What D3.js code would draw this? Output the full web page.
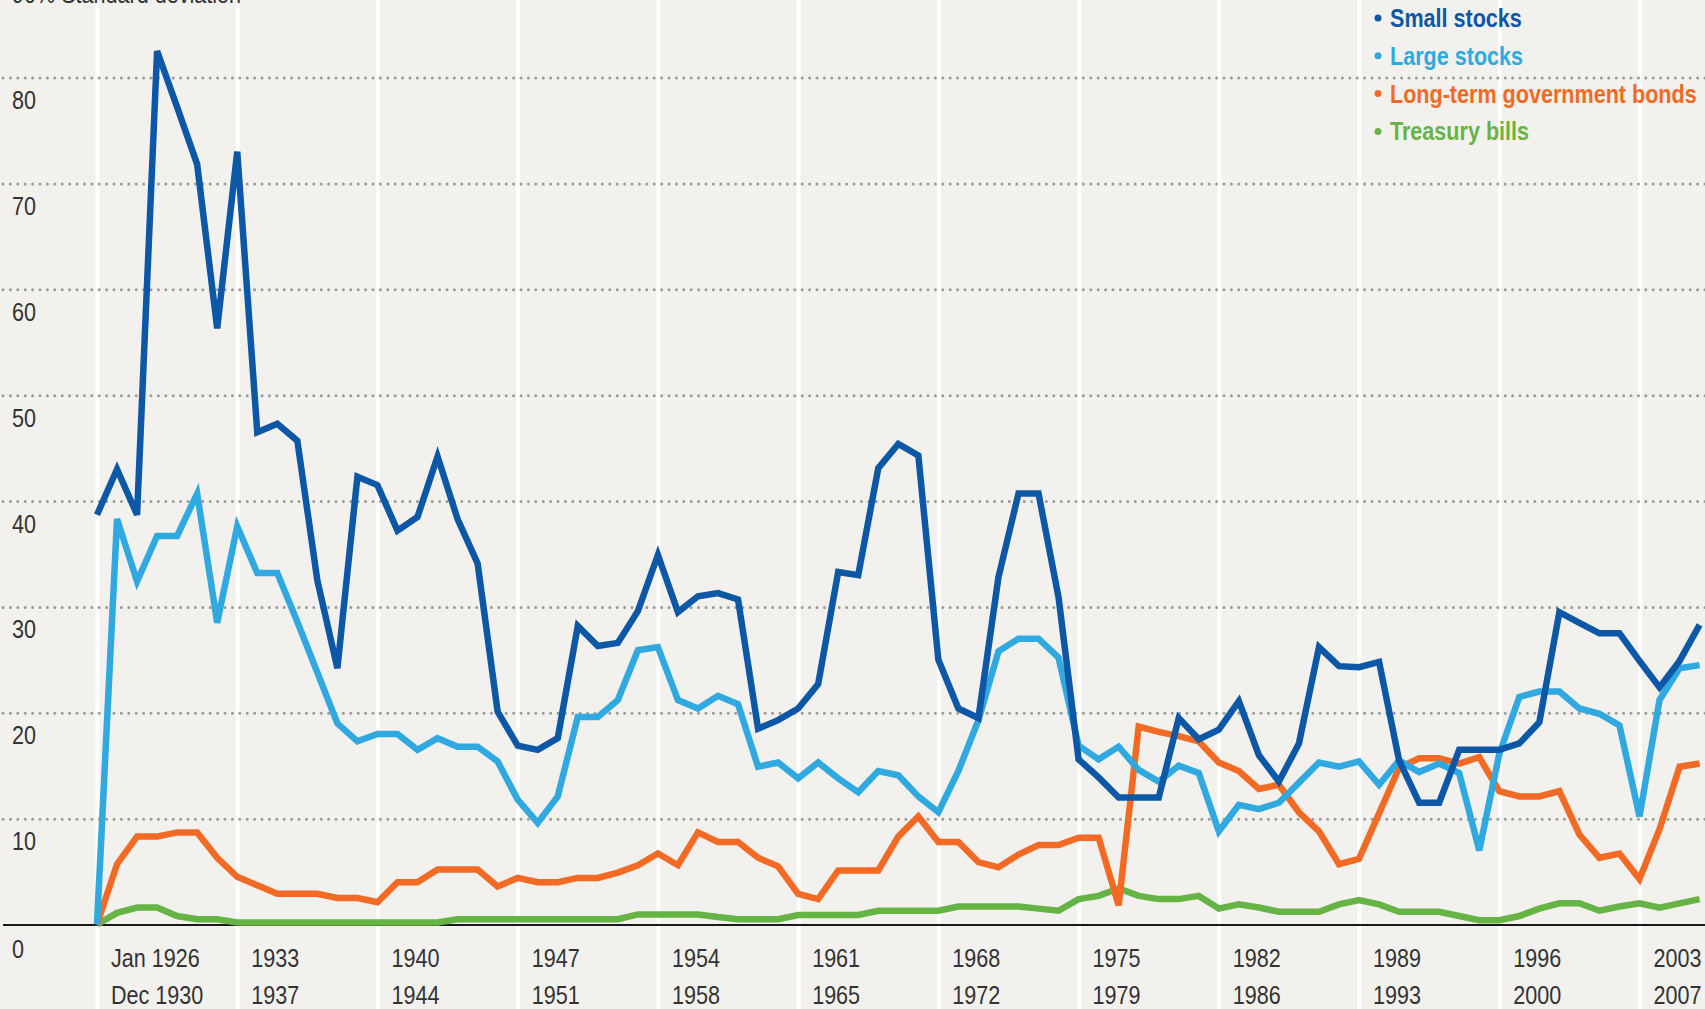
<!DOCTYPE html>
<html>
<head>
<meta charset="utf-8">
<script src="https://cdn.jsdelivr.net/npm/d3@7"></script>
<style>
  body { margin: 0; background: #f3f1ee; }
  svg { display: block; }
  text { font-family: "Liberation Sans", Arial, "DejaVu Sans", sans-serif; }
</style>
</head>
<body>
<svg id="center"></svg>
<script>
// one value per rolling 5-year period, start years 1926 .. 2006
var startYears = d3.range(1926, 2007);

var smallStocks = [
  38.7, 43.0, 38.7, 82.5, 77.2, 71.8, 56.3, 73.0, 46.5, 47.3,
  45.7, 32.5, 24.2, 42.3, 41.5, 37.2, 38.5, 44.2, 38.3, 34.1,
  20.1, 16.9, 16.5, 17.6, 28.2, 26.3, 26.6, 29.6, 34.9, 29.5,
  31.0, 31.3, 30.7, 18.5, 19.3, 20.4, 22.7, 33.3, 33.0, 43.1,
  45.4, 44.3, 25.0, 20.4, 19.5, 32.8, 40.7, 40.7, 30.9, 15.6,
  13.9, 12.0, 12.0, 12.0, 19.5, 17.5, 18.4, 21.1, 16.0, 13.5,
  17.1, 26.2, 24.4, 24.3, 24.8, 15.5, 11.5, 11.5, 16.5, 16.5,
  16.5, 17.1, 19.1, 29.5, 28.5, 27.5, 27.5, 24.9, 22.4, 24.9,
  28.3
];

var largeStocks = [
  0, 38.3, 32.4, 36.7, 36.7, 40.7, 28.5, 37.6, 33.2, 33.2,
  28.6, 23.8, 19.0, 17.3, 18.0, 18.0, 16.5, 17.6, 16.8, 16.8,
  15.4, 11.8, 9.6, 12.1, 19.6, 19.6, 21.2, 25.9, 26.2, 21.2,
  20.4, 21.6, 20.8, 14.9, 15.3, 13.8, 15.3, 13.8, 12.5, 14.5,
  14.1, 12.1, 10.6, 14.5, 19.3, 25.8, 27.0, 27.0, 25.2, 16.9,
  15.6, 16.8, 14.6, 13.5, 15.0, 14.3, 8.8, 11.3, 10.9, 11.5,
  13.4, 15.3, 14.9, 15.4, 13.2, 15.5, 14.4, 15.2, 14.3, 7.0,
  16.1, 21.5, 22.0, 22.0, 20.4, 19.9, 18.8, 10.2, 21.2, 24.2,
  24.5
];

var govBonds = [
  0, 5.7, 8.3, 8.3, 8.7, 8.7, 6.3, 4.5, 3.7, 2.9,
  2.9, 2.9, 2.5, 2.5, 2.1, 4.0, 4.0, 5.2, 5.2, 5.2,
  3.6, 4.4, 4.0, 4.0, 4.4, 4.4, 4.9, 5.6, 6.7, 5.6,
  8.7, 7.8, 7.8, 6.3, 5.5, 2.9, 2.4, 5.1, 5.1, 5.1,
  8.3, 10.2, 7.8, 7.8, 5.9, 5.4, 6.6, 7.5, 7.5, 8.2,
  8.2, 1.8, 18.7, 18.2, 17.8, 17.3, 15.3, 14.5, 12.8, 13.2,
  10.6, 8.8, 5.7, 6.2, 10.5, 14.8, 15.7, 15.7, 15.2, 15.8,
  12.6, 12.1, 12.1, 12.6, 8.5, 6.3, 6.7, 4.3, 9.0, 14.9,
  15.2
];

var tBills = [
  0, 1.1, 1.6, 1.6, 0.8, 0.5, 0.5, 0.2, 0.2, 0.2,
  0.2, 0.2, 0.2, 0.2, 0.2, 0.2, 0.2, 0.2, 0.5, 0.5,
  0.5, 0.5, 0.5, 0.5, 0.5, 0.5, 0.5, 0.95, 0.95, 0.95,
  0.95, 0.7, 0.5, 0.5, 0.5, 0.9, 0.9, 0.9, 0.9, 1.3,
  1.3, 1.3, 1.3, 1.7, 1.7, 1.7, 1.7, 1.5, 1.3, 2.4,
  2.7, 3.4, 2.7, 2.4, 2.4, 2.7, 1.5, 1.9, 1.6, 1.2,
  1.2, 1.2, 1.9, 2.3, 1.9, 1.2, 1.2, 1.2, 0.8, 0.4,
  0.4, 0.8, 1.5, 2.0, 2.0, 1.3, 1.7, 2.0, 1.6, 2.0,
  2.4
];

var seriesNames = ["Small stocks", "Large stocks", "Long-term government bonds", "Treasury bills"];
var seriesColors = ["#0d58a6", "#2fa9e0", "#f26a23", "#66b446"];

var tickYears = [1926, 1933, 1940, 1947, 1954, 1961, 1968, 1975, 1982, 1989, 1996, 2003];
var labelTop = ["Jan 1926", "1933", "1940", "1947", "1954", "1961", "1968", "1975", "1982", "1989", "1996", "2003"];
var labelBottom = ["Dec 1930", "1937", "1944", "1951", "1958", "1965", "1972", "1979", "1986", "1993", "2000", "2007"];
var yTicks = [0, 10, 20, 30, 40, 50, 60, 70, 80];

var width = 1705,
    height = 1009,
    squeeze = 0.83;   // the original face is a condensed one

var svg = d3.select("#center")
    .attr("width", width)
    .attr("height", height);

svg.append("rect")
    .attr("width", width)
    .attr("height", height)
    .style("fill", "#f3f1ee");

var x = d3.scaleLinear().domain([1926, 2006]).range([97, 1699.6]);
var y = d3.scaleLinear().domain([0, 80]).range([924.5, 77.5]);

function narrow(tx, ty) {
  return "translate(" + tx + "," + ty + ") scale(" + squeeze + ",1)";
}

// white period separators, full height
var xAxis = d3.axisBottom(x)
    .tickValues(tickYears)
    .tickSize(height)
    .tickFormat("");

var xg = svg.append("g")
    .attr("class", "x axis")
    .call(xAxis);
xg.select(".domain").remove();
xg.selectAll(".tick line")
    .style("stroke", "#ffffff")
    .style("stroke-width", 4);

// dotted gridlines + labels sitting under each line
var yAxis = d3.axisLeft(y)
    .tickValues(yTicks)
    .tickSize(-width)
    .tickFormat(function(d) { return d; });

var yg = svg.append("g")
    .attr("class", "y axis")
    .call(yAxis);
yg.select(".domain").remove();
yg.selectAll(".tick line")
    .style("stroke", function(d) { return d === 0 ? "#1a1a1a" : "#9a9a9a"; })
    .style("stroke-width", function(d) { return d === 0 ? 2 : 3; })
    .style("stroke-linecap", function(d) { return d === 0 ? "butt" : "round"; })
    .style("stroke-dasharray", function(d) { return d === 0 ? null : "0,7.4"; })
    .attr("x1", 3);
yg.selectAll(".tick text")
    .attr("x", 0)
    .attr("dy", 0)
    .attr("transform", function(d) { return narrow(12, d === 0 ? 33 : 31); })
    .style("text-anchor", "start")
    .style("font-size", "26px")
    .style("fill", "#333333");

svg.append("text")
    .attr("transform", narrow(12, 3))
    .style("font-size", "26px")
    .style("fill", "#333333")
    .text("90% Standard deviation");

// two-line period labels
var labels = svg.selectAll(".xlab")
    .data(tickYears)
  .enter().append("g")
    .attr("class", "xlab")
    .attr("transform", function(d) { return narrow(x(d) + 14, 0); })
  .append("text")
    .style("font-size", "26px")
    .style("fill", "#333333");
labels.append("tspan")
    .attr("x", 0)
    .attr("y", 967)
    .text(function(d, i) { return labelTop[i]; });
labels.append("tspan")
    .attr("x", 0)
    .attr("y", 1004)
    .text(function(d, i) { return labelBottom[i]; });

// lines, bills at the bottom of the stack
var allSeries = [smallStocks, largeStocks, govBonds, tBills];
var line = d3.line()
    .x(function(d, i) { return x(startYears[i]); })
    .y(function(d) { return y(d); });

[3, 2, 1, 0].forEach(function(k) {
  svg.append("path")
      .datum(allSeries[k])
      .attr("d", line)
      .style("fill", "none")
      .style("stroke", seriesColors[k])
      .style("stroke-width", 6.5)
      .style("stroke-linejoin", "miter");
});

// legend
var legend = svg.selectAll(".legend")
    .data(seriesNames)
  .enter().append("g")
    .attr("class", "legend")
    .attr("transform", function(d, i) { return "translate(1378," + (27 + i * 37.8) + ")"; });
legend.append("circle")
    .attr("cx", 0)
    .attr("cy", -9)
    .attr("r", 3.5)
    .style("fill", function(d, i) { return seriesColors[i]; });
legend.append("text")
    .attr("transform", narrow(12, 0))
    .style("font-size", "26px")
    .style("font-weight", "bold")
    .style("fill", function(d, i) { return seriesColors[i]; })
    .text(function(d) { return d; });
</script>
</body>
</html>
